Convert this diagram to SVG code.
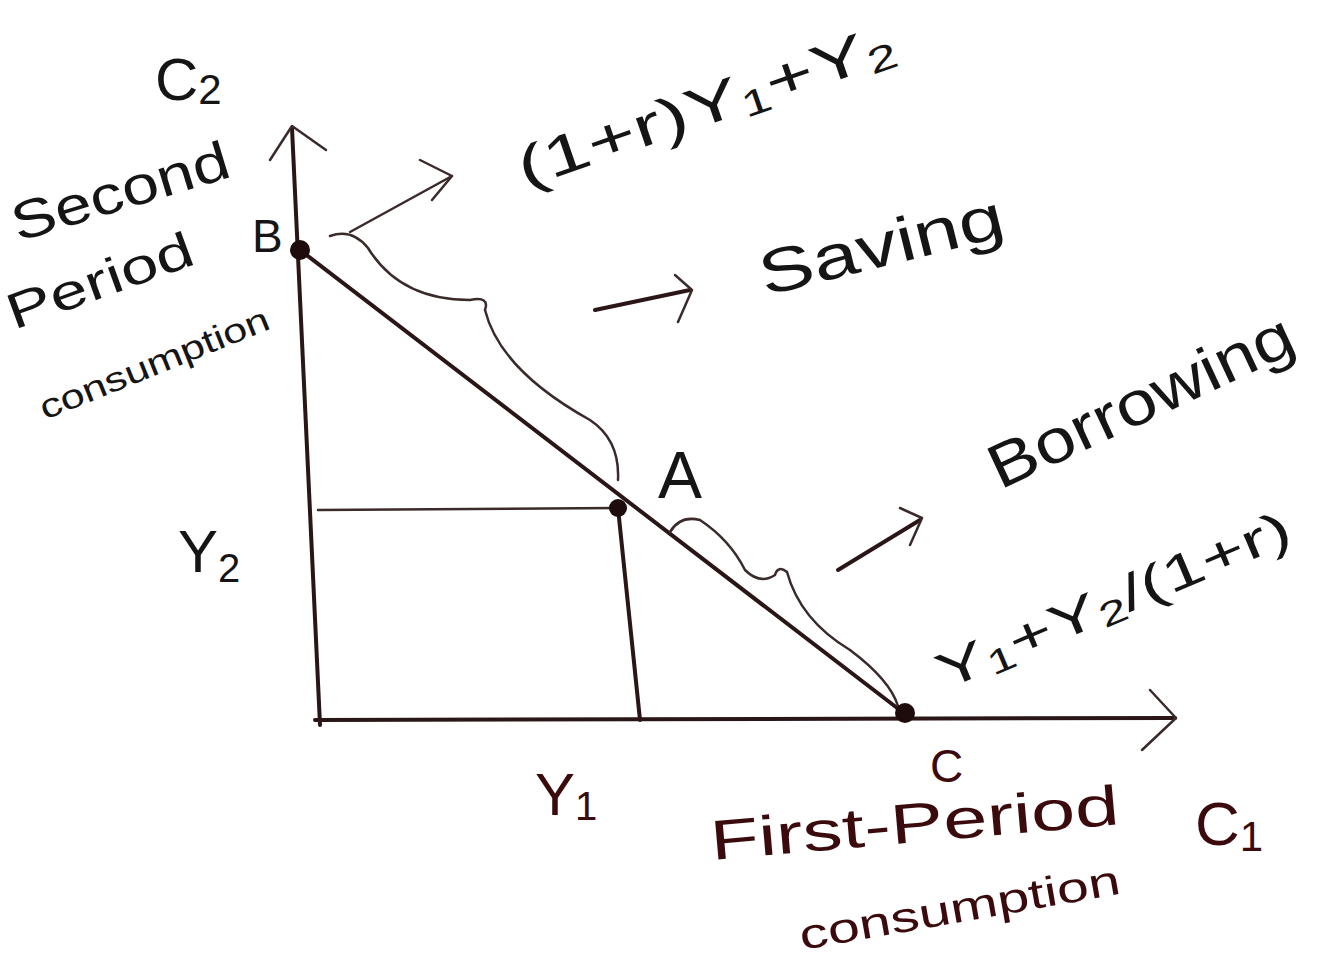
<svg xmlns="http://www.w3.org/2000/svg" width="1332" height="970" viewBox="0 0 1332 970">
<style>
.ink{fill:none;stroke:#2a1616;stroke-width:4;stroke-linecap:round;stroke-linejoin:round}
.thin{fill:none;stroke:#3a2a2a;stroke-width:2.5;stroke-linecap:round;stroke-linejoin:round}
.t{font-family:"Liberation Sans","DejaVu Sans",sans-serif;fill:#151515}
.m{font-family:"Liberation Sans","DejaVu Sans",sans-serif;fill:#3a0a0c}
.dot{fill:#1e0c0c}
</style>
<rect width="1332" height="970" fill="#ffffff"/>
<g id="connectors">
  <path class="ink" d="M320,725 L292,128"/>
  <path class="thin" d="M270,160 L292,126 L326,150"/>
  <path class="ink" d="M315,720 L1175,718"/>
  <path class="thin" d="M1150,690 L1176,718 L1142,750"/>
  <path class="ink" d="M300,250 L905,714"/>
  <path class="thin" d="M318,510 L618,508"/>
  <path class="ink" d="M618,508 L640,720"/>
  <path class="thin" d="M330,236 Q352,228 368,248 Q400,300 470,300 Q490,296 485,310 Q500,370 590,420 Q620,440 618,480"/>
  <path class="thin" d="M350,232 L452,176"/>
  <path class="thin" d="M420,160 L452,176 L432,200"/>
  <path class="ink" d="M595,310 L690,290"/>
  <path class="thin" d="M675,275 L692,290 L678,322"/>
  <path class="thin" d="M670,532 Q680,515 700,520 Q730,540 745,570 Q760,585 775,575 Q778,565 787,572 Q800,620 850,650 Q890,680 898,706"/>
  <path class="ink" d="M838,570 L920,520"/>
  <path class="thin" d="M900,508 L922,518 L910,545"/>
</g>
<g id="point-B"><circle class="dot" cx="300" cy="250" r="10"/><text class="t" x="252" y="252" font-size="46">B</text></g>
<g id="point-A"><circle class="dot" cx="618" cy="508" r="9"/><text class="t" x="658" y="498" font-size="66">A</text></g>
<g id="point-C"><circle class="dot" cx="905" cy="713" r="10"/><text class="m" x="930" y="782" font-size="46">C</text></g>
<g id="label-c2"><text class="t" x="155" y="100" font-size="60">C<tspan font-size="42" dy="4">2</tspan></text></g>
<g id="label-second">
<text class="t" font-size="54" textLength="225" lengthAdjust="spacingAndGlyphs" transform="translate(18,242) rotate(-17)">Second</text>
<text class="t" font-size="50" textLength="195" lengthAdjust="spacingAndGlyphs" transform="translate(14,330) rotate(-20)">Period</text>
<text class="t" font-size="34" textLength="245" lengthAdjust="spacingAndGlyphs" transform="translate(45,420) rotate(-22)">consumption</text></g>
<g id="label-top"><text class="t" font-size="56" textLength="395" lengthAdjust="spacingAndGlyphs" transform="translate(525,188) rotate(-19)">(1+r)Y<tspan font-size="36" dy="6">1</tspan><tspan dy="-6">+Y</tspan><tspan font-size="36" dy="6">2</tspan></text></g>
<g id="label-saving"><text class="t" font-size="62" textLength="250" lengthAdjust="spacingAndGlyphs" transform="translate(765,296) rotate(-14)">Saving</text></g>
<g id="label-borrowing"><text class="t" font-size="62" textLength="330" lengthAdjust="spacingAndGlyphs" transform="translate(1000,490) rotate(-25)">Borrowing</text></g>
<g id="label-y2"><text class="t" x="178" y="572" font-size="60">Y<tspan font-size="40" dy="10">2</tspan></text></g>
<g id="label-y1"><text class="m" x="535" y="815" font-size="60">Y<tspan font-size="40" dy="5">1</tspan></text></g>
<g id="label-sum"><text class="t" font-size="50" textLength="380" lengthAdjust="spacingAndGlyphs" transform="translate(945,690) rotate(-23)">Y<tspan font-size="34" dy="6">1</tspan><tspan dy="-6">+Y</tspan><tspan font-size="34" dy="6">2</tspan><tspan dy="-6">/(1+r)</tspan></text></g>
<g id="label-first">
<text class="m" font-size="56" textLength="410" lengthAdjust="spacingAndGlyphs" transform="translate(712,860) rotate(-5)">First-Period</text>
<text class="m" font-size="42" textLength="325" lengthAdjust="spacingAndGlyphs" transform="translate(802,950) rotate(-10)">consumption</text></g>
<g id="label-c1"><text class="m" x="1195" y="845" font-size="62">C<tspan font-size="42" dy="6">1</tspan></text></g>
</svg>
